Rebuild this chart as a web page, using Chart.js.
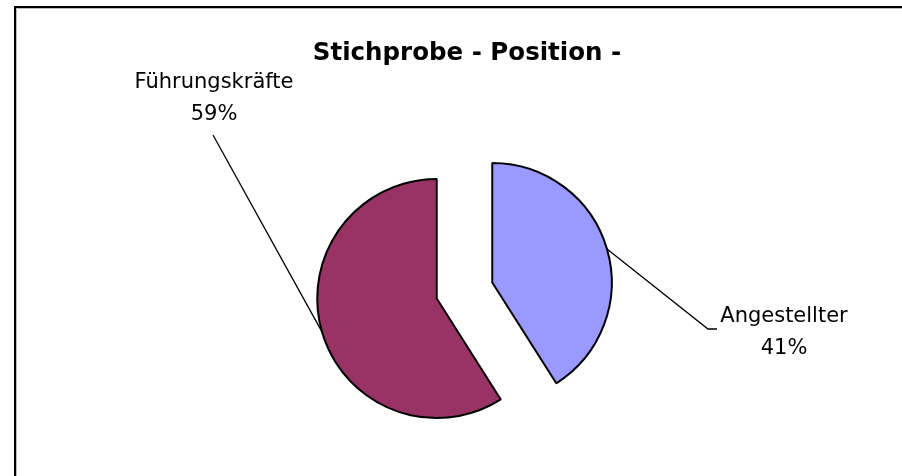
<!DOCTYPE html>
<html lang="de">

<head>
    <meta charset="UTF-8">
    <title>Stichprobe - Position -</title>
    <script src="https://cdn.jsdelivr.net/npm/chart.js"></script>
    <style>
        html, body {
            margin: 0;
            padding: 0;
            background: #fff;
        }

        #chartContainer {
            position: relative;
            width: 902px;
            height: 476px;
        }
    </style>
</head>

<body>
    <div id="chartContainer">
        <canvas id="pieChart"></canvas>
    </div>

    <script>
        // data
        const categories = ['Angestellter', 'Führungskräfte'];
        const values = [41, 59];
        const sliceColors = ['#9999FF', '#993366'];
        const chartTitle = 'Stichprobe - Position -';

        // label text positions (center x, first baseline) and where the leader line ends
        const labelPos = [
            { x: 784, y: 322, lineTo: [[708, 329], [717, 329]] },
            { x: 214, y: 88, lineTo: [[213, 135]] }
        ];

        const explode = 28.9; // px each slice is pulled out of the center

        const total = values.reduce((a, b) => a + b, 0);

        // pull slices apart (shift each arc along its mid angle)
        const explodePlugin = {
            id: 'explode',
            afterDatasetUpdate(chart, args) {
                args.meta.data.forEach(arc => {
                    const mid = (arc.startAngle + arc.endAngle) / 2;
                    arc.x += Math.cos(mid) * explode;
                    arc.y += Math.sin(mid) * explode;
                });
            }
        };

        // title, frame, labels and leader lines
        const decorPlugin = {
            id: 'decor',
            afterDraw(chart) {
                const ctx = chart.ctx;
                ctx.save();

                // frame (only top and left edges are visible in the crop)
                ctx.strokeStyle = '#000';
                ctx.lineWidth = 2;
                ctx.beginPath();
                ctx.moveTo(15, chart.height);
                ctx.lineTo(15, 7);
                ctx.lineTo(chart.width, 7);
                ctx.stroke();
                ctx.strokeStyle = '#bbb';
                ctx.lineWidth = 1;
                ctx.beginPath();
                ctx.moveTo(16.5, chart.height);
                ctx.lineTo(16.5, 8.5);
                ctx.lineTo(chart.width, 8.5);
                ctx.stroke();

                // title
                ctx.fillStyle = '#000';
                ctx.textAlign = 'center';
                ctx.textBaseline = 'alphabetic';
                ctx.font = 'bold 24.5px "DejaVu Sans"';
                ctx.fillText(chartTitle, 467, 60);

                const meta = chart.getDatasetMeta(0);
                meta.data.forEach((arc, i) => {
                    const mid = (arc.startAngle + arc.endAngle) / 2;
                    const ax = arc.x + Math.cos(mid) * arc.outerRadius;
                    const ay = arc.y + Math.sin(mid) * arc.outerRadius;

                    // leader line
                    ctx.strokeStyle = '#000';
                    ctx.lineWidth = 1.3;
                    ctx.beginPath();
                    ctx.moveTo(ax, ay);
                    labelPos[i].lineTo.forEach(p => ctx.lineTo(p[0], p[1]));
                    ctx.stroke();

                    // label
                    ctx.fillStyle = '#000';
                    ctx.font = '21px "DejaVu Sans"';
                    ctx.fillText(categories[i], labelPos[i].x, labelPos[i].y);
                    const pct = Math.round(values[i] / total * 100) + '%';
                    ctx.fillText(pct, labelPos[i].x, labelPos[i].y + 32);
                });

                ctx.restore();
            }
        };

        const ctx = document.getElementById('pieChart').getContext('2d');
        const pieChart = new Chart(ctx, {
            type: 'pie',
            data: {
                labels: categories,
                datasets: [{
                    data: values,
                    backgroundColor: sliceColors,
                    borderColor: '#000',
                    borderWidth: 2,
                    radius: 119.5
                }]
            },
            options: {
                responsive: true,
                maintainAspectRatio: false,
                animation: false,
                layout: {
                    padding: { left: 27, right: 0, top: 105, bottom: 0 }
                },
                plugins: {
                    legend: { display: false },
                    title: { display: false },
                    tooltip: { enabled: false }
                }
            },
            plugins: [explodePlugin, decorPlugin]
        });
    </script>
</body>

</html>
